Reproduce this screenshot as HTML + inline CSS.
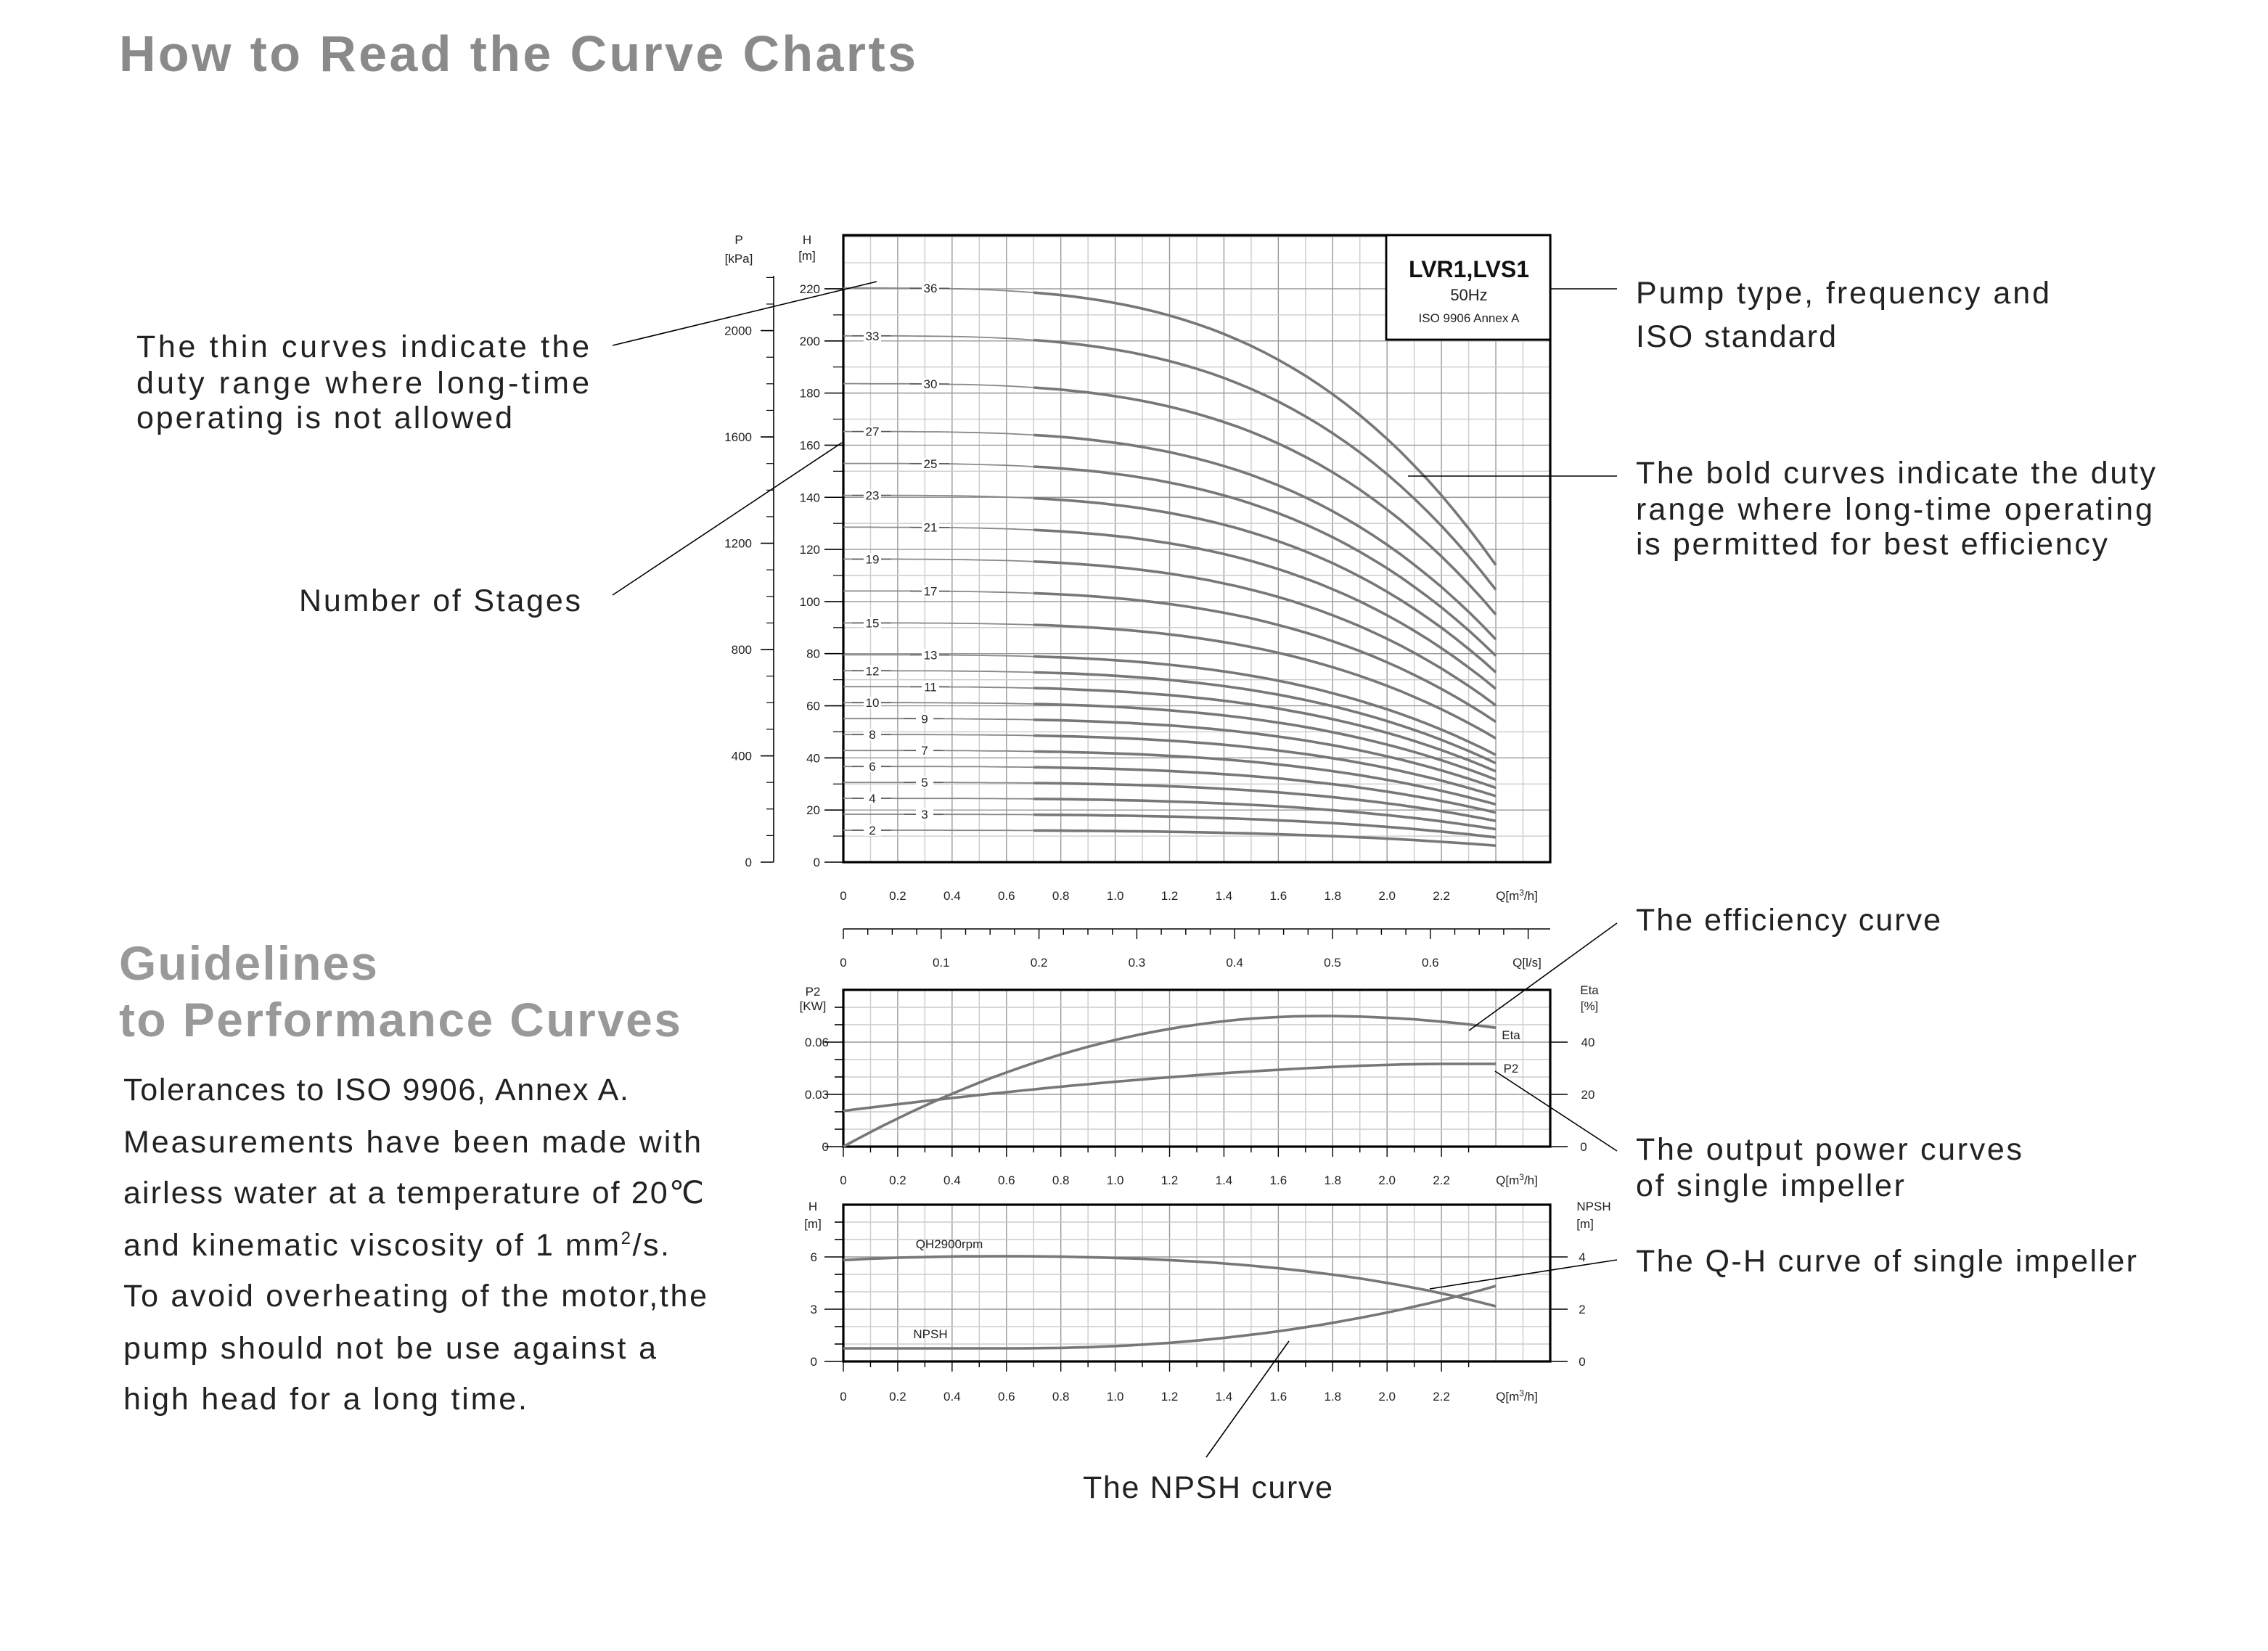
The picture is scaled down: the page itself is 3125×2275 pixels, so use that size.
<!DOCTYPE html>
<html><head><meta charset="utf-8"><style>
html,body{margin:0;padding:0;background:#fff}
svg{display:block}
text{font-family:"Liberation Sans",sans-serif}
.t{font-size:8.5px;fill:#222}
.ann{font-size:21.5px;fill:#222}
</style></head><body>
<svg id="s" width="3125" height="2275" viewBox="0 0 1562.5 1137.5" xmlns="http://www.w3.org/2000/svg">
<text x="82" y="49" textLength="549" lengthAdjust="spacing" style="font-size:35px;fill:#8a8a8a;font-weight:bold">How to Read the Curve Charts</text>
<text x="82" y="675" textLength="178" lengthAdjust="spacing" style="font-size:33px;fill:#999;font-weight:bold">Guidelines</text>
<text x="82" y="714" textLength="387" lengthAdjust="spacing" style="font-size:33px;fill:#999;font-weight:bold">to Performance Curves</text>
<g class="ann">
<text x="85" y="758" textLength="348" lengthAdjust="spacing">Tolerances to ISO 9906, Annex A.</text>
<text x="85" y="794" textLength="398" lengthAdjust="spacing">Measurements have been made with</text>
<text x="85" y="829" textLength="400" lengthAdjust="spacing">airless water at a temperature of 20℃</text>
<text x="85" y="865" textLength="376" lengthAdjust="spacing">and kinematic viscosity of 1 mm<tspan dy="-8" style="font-size:12px">2</tspan><tspan dy="8">/s.</tspan></text>
<text x="85" y="900" textLength="402" lengthAdjust="spacing">To avoid overheating of the motor,the</text>
<text x="85" y="936" textLength="367" lengthAdjust="spacing">pump should not be use against a</text>
<text x="85" y="971" textLength="278" lengthAdjust="spacing">high head for a long time.</text>
<text x="94" y="246" textLength="312" lengthAdjust="spacing">The thin curves indicate the</text>
<text x="94" y="271" textLength="312" lengthAdjust="spacing">duty range where long-time</text>
<text x="94" y="295" textLength="259" lengthAdjust="spacing">operating is not allowed</text>
<text x="206" y="421" textLength="194" lengthAdjust="spacing">Number of Stages</text>
<text x="1127" y="209" textLength="285" lengthAdjust="spacing">Pump type, frequency and</text>
<text x="1127" y="239" textLength="138" lengthAdjust="spacing">ISO standard</text>
<text x="1127" y="333" textLength="358" lengthAdjust="spacing">The bold curves indicate the duty</text>
<text x="1127" y="358" textLength="356" lengthAdjust="spacing">range where long-time operating</text>
<text x="1127" y="382" textLength="325" lengthAdjust="spacing">is permitted for best efficiency</text>
<text x="1127" y="641" textLength="210" lengthAdjust="spacing">The efficiency curve</text>
<text x="1127" y="799" textLength="266" lengthAdjust="spacing">The output power curves</text>
<text x="1127" y="824" textLength="185" lengthAdjust="spacing">of single impeller</text>
<text x="1127" y="876" textLength="345" lengthAdjust="spacing">The Q-H curve of single impeller</text>
<text x="746" y="1032" textLength="172" lengthAdjust="spacing">The NPSH curve</text>
</g>
<g id="g"></g>
</svg>
<script>
var g=document.getElementById('g'),h='';
function L(x1,y1,x2,y2,c,w){h+='<line x1="'+x1+'" y1="'+y1+'" x2="'+x2+'" y2="'+y2+'" stroke="'+(c||'#000')+'" stroke-width="'+(w||1)+'"/>';}
function T(x,y,s,a,cl,st){h+='<text x="'+x+'" y="'+y+'" class="'+(cl||'t')+'" text-anchor="'+(a||'middle')+'" '+(st?'style="'+st+'"':'')+'>'+s+'</text>';}
function P(pts,c,w){h+='<polyline fill="none" points="'+pts.join(' ')+'" stroke="'+c+'" stroke-width="'+w+'"/>';}
var X=function(q){return 581+q*187.3;};
var Y=function(v){return 594-v*1.7955;};
for(var i=1;i<26;i++){L(X(i/10),162,X(i/10),594,i%2?'#ccc':'#999',0.7);}
for(var v=10;v<=240;v+=10){L(581,Y(v),1068,Y(v),v%20?'#ccc':'#999',0.7);}
h+='<rect x="581" y="162" width="487" height="432" fill="none" stroke="#000" stroke-width="1.6"/>';
for(var v=0;v<=220;v+=20){T(565,Y(v)+3,v,'end');L(568,Y(v),581,Y(v),'#000',0.8);}
for(v=10;v<=220;v+=20)L(574,Y(v),581,Y(v),'#000',0.6);
T(556,168,'H');T(556,179,'[m]');T(509,168,'P');T(509,181,'[kPa]');
L(533,190,533,594,'#000',0.8);
for(var k=0;k<=2000;k+=400){var yy=594-k*0.1831;T(518,yy+3,k,'end');L(524,yy,533,yy,'#000',0.8);}
for(k=100;k<=2300;k+=100){var yy=594-k*0.1831;if(yy>185)L(528,yy,533,yy,'#000',0.6);}
for(i=0;i<=11;i++){var q=i*0.2;T(X(q),620,i==0?'0':q.toFixed(1));}
T(1045,620,'Q[m<tspan dy="-3" style="font-size:6px">3</tspan><tspan dy="3">/h]</tspan>');
h+='<rect x="955" y="162" width="113" height="72" fill="#fff" stroke="#000" stroke-width="1.4"/>';
T(1012,191,'LVR1,LVS1','middle','t','font-size:16px;font-weight:bold;fill:#111');
T(1012,207,'50Hz','middle','t','font-size:11px');
T(1012,222,'ISO 9906 Annex A','middle','t','font-size:8.5px');
function h1(q){return 6.12-0.16*Math.pow(q,3.33);}
var st=[2,3,4,5,6,7,8,9,10,11,12,13,15,17,19,21,23,25,27,30,33,36];
st.forEach(function(n,j){var a=[],b=[];for(var q=0;q<=2.401;q+=0.05){var p=X(q).toFixed(1)+','+Y(n*h1(q)).toFixed(1);if(q<=0.72)a.push(p);if(q>=0.7)b.push(p);}
P(a,'#888',0.9);P(b,'#777',1.8);
var left=(j%2==0);var lx=left?601:(n<10?637:641);var ly=Y(n*h1(left?0.1:0.3));
h+='<rect x="'+(lx-6)+'" y="'+(ly-4)+'" width="12" height="8" fill="#fff"/>';L(lx-14,ly,lx-6,ly,'#555',0.7);L(lx+6,ly,lx+13,ly,'#555',0.7);T(lx,ly+3,n);});
L(581,640,1068,640,'#000',0.8);
for(i=0;i<=29;i++){var x=581+i*16.85;if(x>1068)break;L(x,640,x,i%4?644:647,'#000',0.7);}
for(i=0;i<=6;i++){T(581+i*67.4,666,i==0?'0':(i/10).toFixed(1));}
T(1052,666,'Q[l/s]');
var Yp=function(p){return 790-p*1200;};
for(i=1;i<26;i++)L(X(i/10),682,X(i/10),790,i%2?'#ccc':'#999',0.7);
for(v=1;v<9;v++)L(581,790-v*12,1068,790-v*12,v%3?'#ccc':'#999',0.7);
h+='<rect x="581" y="682" width="487" height="108" fill="none" stroke="#000" stroke-width="1.6"/>';
T(571,721,'0.06','end');T(571,757,'0.03','end');T(571,793,'0','end');
for(v=0;v<9;v++)L(v%3?575:568,790-v*12,581,790-v*12,'#000',0.8);
T(560,686,'P2');T(560,696,'[KW]');
T(1094,721,'40');T(1094,757,'20');T(1091,793,'0');T(1095,685,'Eta');T(1095,696,'[%]');
[0,20,40].forEach(function(e){var y=790-e*1.8;L(1068,y,1080,y,'#000',0.8);});
var e=[],p2=[];for(var q=0;q<=2.401;q+=0.05){var et=50*(1-Math.pow((q-1.75)/1.75,2));if(q>1.75)et=50-8*Math.pow((q-1.75)/0.65,2)*0.56;e.push(X(q).toFixed(1)+','+(790-et*1.8).toFixed(1));var pw=0.0205+0.027*(1-Math.pow(1-Math.min(q,2.2)/2.2,1.6));p2.push(X(q).toFixed(1)+','+Yp(pw).toFixed(1));}
P(e,'#777',1.8);P(p2,'#777',1.8);
T(1041,716,'Eta');T(1041,739,'P2');
for(i=0;i<=11;i++){var q=i*0.2;T(X(q),816,i==0?'0':q.toFixed(1));L(X(q),790,X(q),797,'#000',0.7);L(X(q+0.1),790,X(q+0.1),794,'#000',0.7);}
T(1045,816,'Q[m<tspan dy="-3" style="font-size:6px">3</tspan><tspan dy="3">/h]</tspan>');
var Yn=function(v){return 938-v*12;};
for(i=1;i<26;i++)L(X(i/10),830,X(i/10),938,i%2?'#ccc':'#999',0.7);
for(v=1;v<9;v++)L(581,Yn(v),1068,Yn(v),v%3?'#ccc':'#999',0.7);
h+='<rect x="581" y="830" width="487" height="108" fill="none" stroke="#000" stroke-width="1.6"/>';
T(563,869,'6','end');T(563,905,'3','end');T(563,941,'0','end');T(560,834,'H');T(560,846,'[m]');
for(v=0;v<9;v++)L(v%3?575:568,Yn(v),581,Yn(v),'#000',0.8);
T(1090,869,'4');T(1090,905,'2');T(1090,941,'0');T(1098,834,'NPSH');T(1092,846,'[m]');
[0,2,4].forEach(function(n){var y=938-n*18;L(1068,y,1080,y,'#000',0.8);});
var qh=[],np=[];for(var q=0;q<=2.401;q+=0.05){qh.push(X(q).toFixed(1)+','+Yn(h1(q)-0.3*Math.exp(-q*3)).toFixed(1));np.push(X(q).toFixed(1)+','+(929-43*Math.pow(Math.max(q-0.6,0)/1.8,2.2)).toFixed(1));}
P(qh,'#777',1.8);P(np,'#777',1.8);
T(654,860,'QH2900rpm');T(641,922,'NPSH');
for(i=0;i<=11;i++){var q=i*0.2;T(X(q),965,i==0?'0':q.toFixed(1));L(X(q),938,X(q),945,'#000',0.7);L(X(q+0.1),938,X(q+0.1),942,'#000',0.7);}
T(1045,965,'Q[m<tspan dy="-3" style="font-size:6px">3</tspan><tspan dy="3">/h]</tspan>');
L(422,238,604,194,'#000',0.8);
L(422,410,580,305,'#000',0.8);
L(1068,199,1114,199,'#000',0.8);
L(970,328,1114,328,'#000',0.8);
L(1012,710,1114,636,'#000',0.8);
L(1030,738,1114,793,'#000',0.8);
L(985,888,1114,868,'#000',0.8);
L(888,924,831,1004,'#000',0.8);
g.innerHTML=h;
</script>
</body></html>
